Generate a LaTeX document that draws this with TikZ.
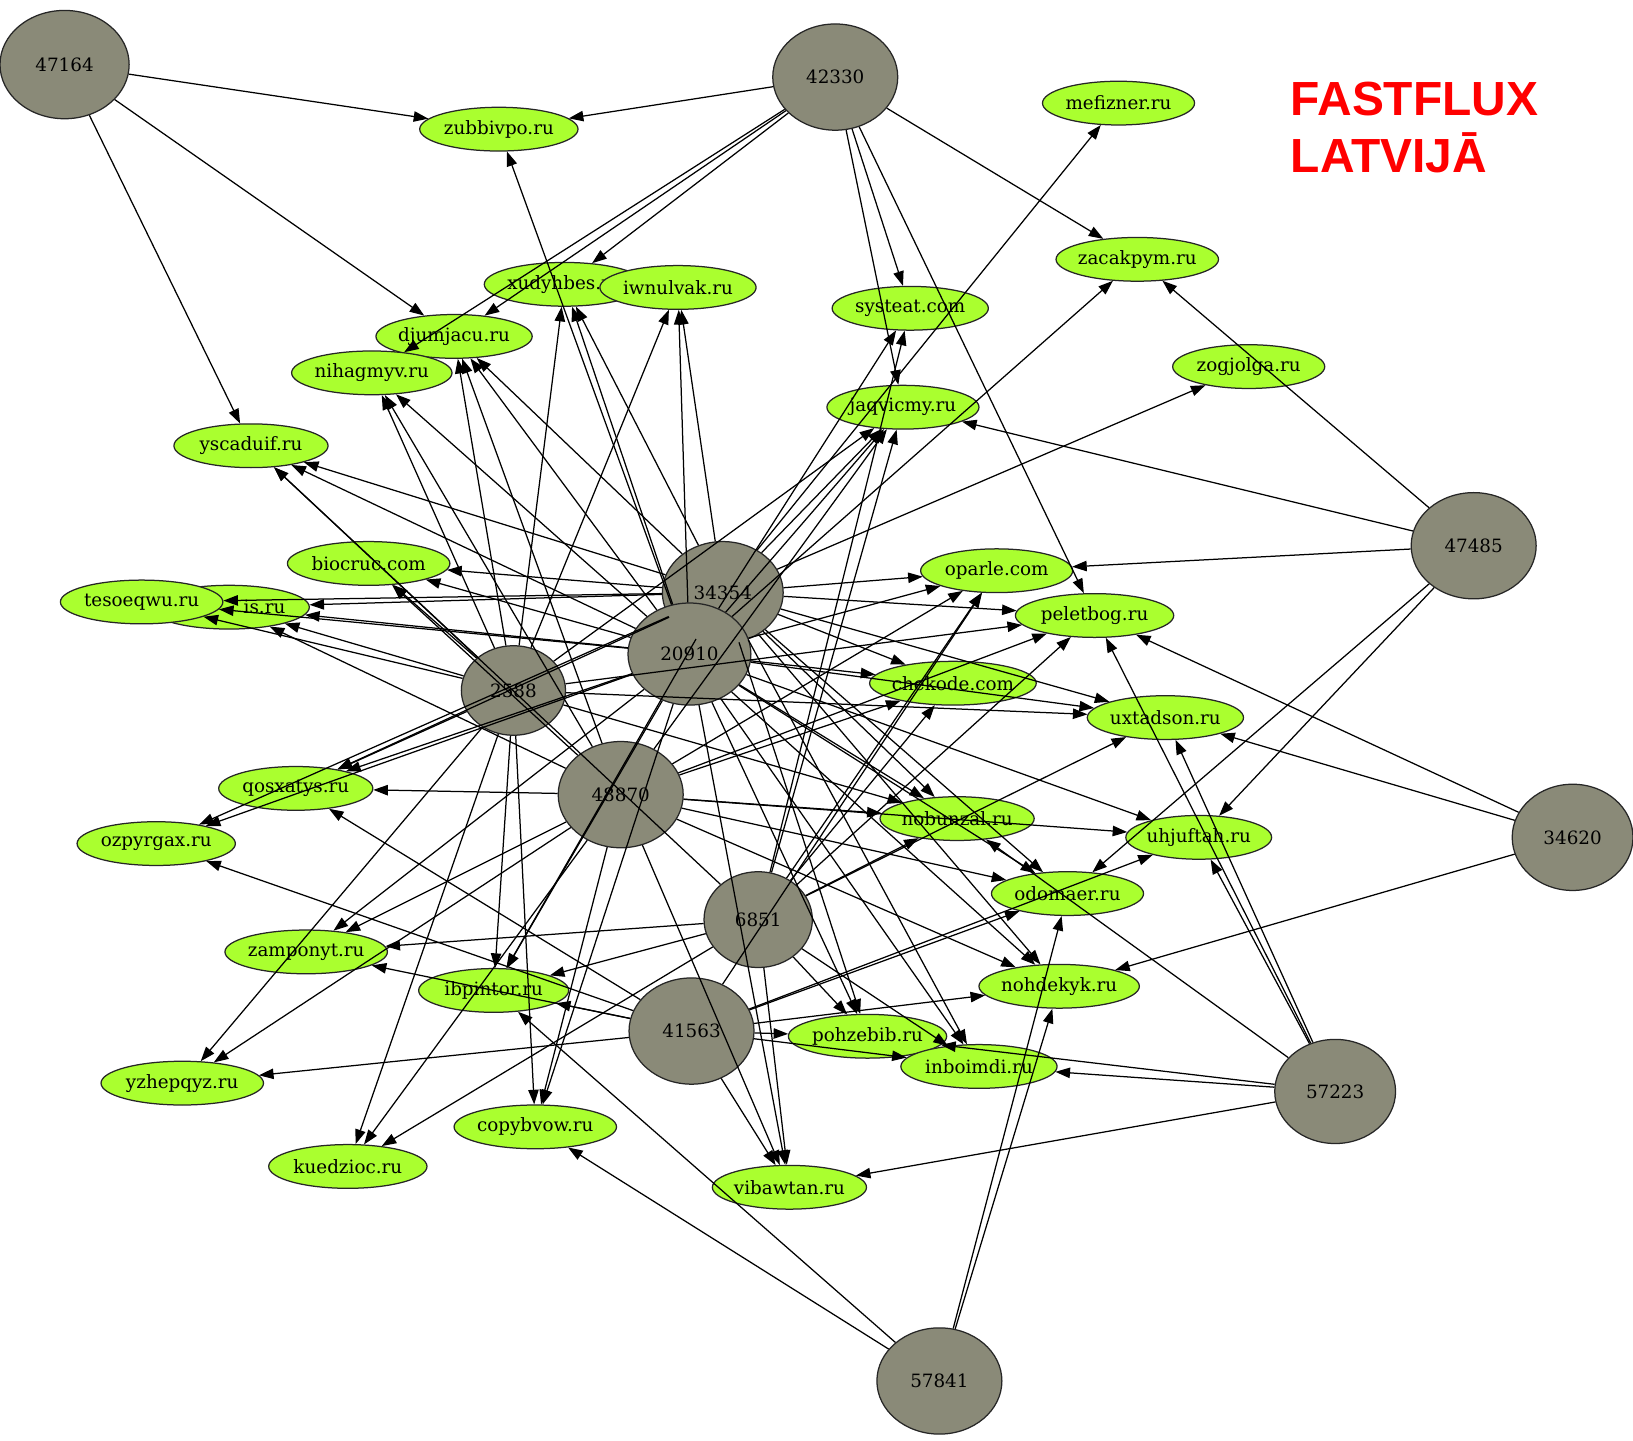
\documentclass[tikz,border=0pt]{standalone}
\usepackage{fontspec}
\setmainfont{DejaVu Serif}
\newfontfamily\titlefont{Liberation Sans}
\usetikzlibrary{shapes.geometric,arrows.meta}
\definecolor{asgray}{RGB}{138,138,120}
\definecolor{domgreen}{RGB}{170,255,47}
\newcommand\nlab[1]{\makebox[0pt]{#1}}
\begin{document}
\begin{tikzpicture}[x=0.5pt,y=-0.5pt,
  asn/.style={ellipse, draw=black!85, line width=0.6pt, fill=asgray, inner sep=0pt,
    minimum width=60pt, minimum height=51pt, font=\fontsize{8.8}{10}\selectfont},
  dom/.style={ellipse, draw=black!85, line width=0.6pt, fill=domgreen, inner sep=0pt,
    minimum height=21pt, font=\fontsize{8.8}{10}\selectfont},
  edge/.style={-{Triangle[length=7pt,width=5pt]}, line width=0.6pt, draw=black},
  ttl/.style={anchor=base west, inner sep=0pt, text=red, font=\titlefont\bfseries\fontsize{23}{27}\selectfont}]
\useasboundingbox (0,0) rectangle (1568,1383);
\fill[white] (0,0) rectangle (1568,1383);

% AS nodes
\node[asn, minimum width=62pt, minimum height=52pt] (a47164) at (62,62) {\nlab{47164}};
\node[asn] (a42330) at (802,74) {\nlab{42330}};
\node[asn] (a47485) at (1415,524) {\nlab{47485}};
\node[asn, minimum width=58pt, minimum height=49pt] (a34354) at (694,569) {\nlab{34354}};
\node[asn, minimum width=59pt, minimum height=49pt] (a20910) at (662,628) {\nlab{20910}};
\node[asn, minimum width=50pt, minimum height=43pt] (a2588) at (493,663) {\nlab{2588}};
\node[asn] (a48870) at (596,763) {\nlab{48870}};
\node[asn, minimum width=52pt, minimum height=46pt] (a6851) at (728,883) {\nlab{6851}};
\node[asn] (a41563) at (664,990) {\nlab{41563}};
\node[asn, minimum width=58pt] (a34620) at (1510,804) {\nlab{34620}};
\node[asn, minimum width=58pt, minimum height=50pt] (a57223) at (1282,1048) {\nlab{57223}};
\node[asn] (a57841) at (902,1326) {\nlab{57841}};

% domain nodes
\node[dom, minimum width=76pt] (zubbivpo) at (479,124) {\nlab{zubbivpo.ru}};
\node[dom, minimum width=73pt] (mefizner) at (1074,99) {\nlab{mefizner.ru}};
\node[dom, minimum width=78pt] (zacakpym) at (1092,249) {\nlab{zacakpym.ru}};
\node[dom, minimum width=77pt] (xudyhbes) at (542,273) {\nlab{xudyhbes.ru}};
\node[dom, minimum width=75pt] (iwnulvak) at (651,276) {\nlab{iwnulvak.ru}};
\node[dom, minimum width=75pt] (systeat) at (874,296) {\nlab{systeat.com}};
\node[dom, minimum width=75pt] (djumjacu) at (436,323) {\nlab{djumjacu.ru}};
\node[dom, minimum width=77pt] (nihagmyv) at (357,358) {\nlab{nihagmyv.ru}};
\node[dom, minimum width=73pt] (zogjolga) at (1199,352) {\nlab{zogjolga.ru}};
\node[dom, minimum width=73pt] (jaqvicmy) at (867,391) {\nlab{jaqvicmy.ru}};
\node[dom, minimum width=74pt] (yscaduif) at (241,428) {\nlab{yscaduif.ru}};
\node[dom, minimum width=78pt] (biocruc) at (354,541) {\nlab{biocruc.com}};
\node[dom, minimum width=77pt] (isru) at (220,583) {\nlab{\phantom{nnnnnn}is.ru}};
\node[dom, minimum width=78pt] (tesoeqwu) at (136,578) {\nlab{tesoeqwu.ru}};
\node[dom, minimum width=73pt] (oparle) at (957,548) {\nlab{oparle.com}};
\node[dom, minimum width=76pt] (peletbog) at (1051,591) {\nlab{peletbog.ru}};
\node[dom, minimum width=80pt] (chekode) at (915,656) {\nlab{chekode.com}};
\node[dom, minimum width=75pt] (uxtadson) at (1119,689) {\nlab{uxtadson.ru}};
\node[dom, minimum width=74pt] (qosxatys) at (284,757) {\nlab{qosxatys.ru}};
\node[dom, minimum width=74pt] (nobunzal) at (919,786) {\nlab{nobunzal.ru}};
\node[dom, minimum width=76pt] (ozpyrgax) at (150,810) {\nlab{ozpyrgax.ru}};
\node[dom, minimum width=70pt] (uhjuftah) at (1151,804) {\nlab{uhjuftah.ru}};
\node[dom, minimum width=73pt] (odomaer) at (1025,858) {\nlab{odomaer.ru}};
\node[dom, minimum width=78pt] (zamponyt) at (294,914) {\nlab{zamponyt.ru}};
\node[dom, minimum width=72pt] (ibpintor) at (474,951) {\nlab{ibpintor.ru}};
\node[dom, minimum width=77pt] (nohdekyk) at (1017,947) {\nlab{nohdekyk.ru}};
\node[dom, minimum width=76pt] (pohzebib) at (833,995) {\nlab{pohzebib.ru}};
\node[dom, minimum width=75pt] (inboimdi) at (940,1024) {\nlab{inboimdi.ru}};
\node[dom, minimum width=78pt] (yzhepqyz) at (175,1040) {\nlab{yzhepqyz.ru}};
\node[dom, minimum width=78pt] (copybvow) at (514,1082) {\nlab{copybvow.ru}};
\node[dom, minimum width=76pt] (kuedzioc) at (334,1120) {\nlab{kuedzioc.ru}};
\node[dom, minimum width=74pt] (vibawtan) at (758,1140) {\nlab{vibawtan.ru}};

% title
\node[ttl] (t1) at (1239,111) {FASTFLUX};
\node[ttl] (t2) at (1239,166) {LATVIJĀ};

% edges
\foreach \t in {zubbivpo,djumjacu,yscaduif} \draw[edge] (a47164) -- (\t);
\foreach \t in {zubbivpo,xudyhbes,djumjacu,nihagmyv,systeat,jaqvicmy,peletbog,zacakpym} \draw[edge] (a42330) -- (\t);
\foreach \t in {zacakpym,jaqvicmy,oparle,uhjuftah,odomaer} \draw[edge] (a47485) -- (\t);
\foreach \t in {peletbog,uxtadson,nohdekyk} \draw[edge] (a34620) -- (\t);
\foreach \t in {peletbog,uxtadson,uhjuftah,nobunzal,pohzebib,inboimdi,vibawtan} \draw[edge] (a57223) -- (\t);
\foreach \t in {odomaer,nohdekyk,copybvow,ibpintor} \draw[edge] (a57841) -- (\t);
\foreach \t in {mefizner,zogjolga,jaqvicmy,xudyhbes,iwnulvak,djumjacu,yscaduif,biocruc,tesoeqwu,isru,oparle,peletbog,chekode,uxtadson,nobunzal,odomaer,nohdekyk,pohzebib,inboimdi,ibpintor,qosxatys,ozpyrgax} \draw[edge] (a34354) -- (\t);
\foreach \t in {zubbivpo,zacakpym,systeat,jaqvicmy,xudyhbes,iwnulvak,djumjacu,nihagmyv,yscaduif,biocruc,tesoeqwu,isru,oparle,chekode,uxtadson,nobunzal,uhjuftah,odomaer,nohdekyk,pohzebib,inboimdi,vibawtan,copybvow,ibpintor,zamponyt,qosxatys,ozpyrgax} \draw[edge] (a20910) -- (\t);
\foreach \t in {xudyhbes,iwnulvak,djumjacu,nihagmyv,yscaduif,biocruc,tesoeqwu,isru,qosxatys,jaqvicmy,peletbog,uxtadson,nobunzal,ibpintor,copybvow,kuedzioc,yzhepqyz} \draw[edge] (a2588) -- (\t);
\foreach \t in {nihagmyv,djumjacu,biocruc,isru,qosxatys,jaqvicmy,oparle,peletbog,chekode,nobunzal,uhjuftah,odomaer,nohdekyk,vibawtan,copybvow,zamponyt,yzhepqyz,kuedzioc} \draw[edge] (a48870) -- (\t);
\foreach \t in {yscaduif,systeat,jaqvicmy,oparle,peletbog,chekode,uxtadson,nobunzal,pohzebib,inboimdi,vibawtan,ibpintor,zamponyt,kuedzioc} \draw[edge] (a6851) -- (\t);
\foreach \t in {oparle,uhjuftah,odomaer,nohdekyk,pohzebib,inboimdi,vibawtan,ibpintor,zamponyt,yzhepqyz,qosxatys,ozpyrgax} \draw[edge] (a41563) -- (\t);
\end{tikzpicture}
\end{document}
